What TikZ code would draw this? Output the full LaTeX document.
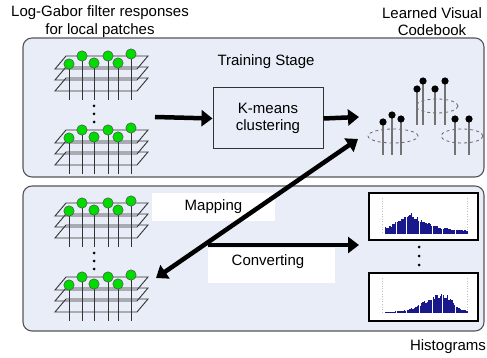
\documentclass[tikz,border=0pt]{standalone}
\usepackage{fontspec}
\setmainfont{Liberation Sans}
\usetikzlibrary{arrows.meta}
\definecolor{panelfill}{RGB}{232,237,247}
\definecolor{panelborder}{RGB}{85,85,85}
\definecolor{ballgreen}{RGB}{0,220,0}
\definecolor{histblue}{RGB}{25,25,140}
\tikzset{
  panel/.style={draw=panelborder,line width=1.1pt,fill=panelfill,rounded corners=9pt},
  plane/.style={draw=black!80,line width=0.9pt},
  stem/.style={draw=black!80,line width=0.9pt},
  ball/.style={draw=black!70,fill=ballgreen,line width=0.5pt},
  cbstem/.style={draw=black!55,line width=1.1pt},
  cbdot/.style={fill=black},
  cbell/.style={draw=black!60,dashed,line width=0.8pt},
  bigarrow/.style={line width=4.5pt,-{Triangle[length=11pt,width=16pt]}},
  dblarrow/.style={line width=4.5pt,{Triangle[length=11pt,width=16pt]}-{Triangle[length=11pt,width=16pt]}},
  labelbox/.style={fill=white,draw=none,font=\fontsize{15}{18}\selectfont},
  txt/.style={font=\fontsize{15}{17.5}\selectfont,align=center,inner sep=0pt},
  histbox/.style={draw=black,line width=2.5pt,fill=white},
  ellipsisdot/.style={fill=black}
}
\newcommand{\gstack}[1]{%
  \begin{scope}[shift={(0,#1)}]
    \foreach \i in {2,1,0}{
      \draw[plane] (55,{69+11*\i}) -- (137,{69+11*\i}) -- (148,{56+11*\i}) -- (66,{56+11*\i}) -- cycle;
    }
    \foreach \x/\y in {69/64,82/56,94/63,108/56,118/63,131/54}{
      \draw[stem] (\x,\y) -- (\x,100);
      \filldraw[ball] (\x,\y) circle (5.2pt);
    }
  \end{scope}}
\newcommand{\vdotsat}[3]{%
  \fill[ellipsisdot] (#1,#2) circle (1.5pt);
  \fill[ellipsisdot] (#1,{#2+(#3-#2)/2}) circle (1.5pt);
  \fill[ellipsisdot] (#1,#3) circle (1.5pt);}
\begin{document}
\begin{tikzpicture}[x=1pt,y=-1pt]
\useasboundingbox (0,0) rectangle (487,358);
% panels
\draw[panel] (23,38) rectangle (484,177);
\draw[panel] (23,186) rectangle (484,331);
% titles
\node[txt] (t1) at (100,21.5) {Log-Gabor filter responses\\for local patches};
\node[txt] (t2) at (432,21.5) {Learned Visual\\Codebook};
\node[txt] (t3) at (266,62) {Training Stage};
\node[txt] (t4) at (448,347) {Histograms};
% stacks
\gstack{0}
\gstack{74}
\gstack{147}
\gstack{221}
\vdotsat{94}{106}{122}
\vdotsat{94}{253}{269}
% K-means
\node[draw=black!80,line width=1pt,fill=panelfill,minimum width=110pt,minimum height=61pt,txt] (km) at (268,118.5) {K-means\\clustering};
\coordinate (sa) at (155,117);
\coordinate (cbin) at (359,117);
\draw[bigarrow] (sa) -- (km.west);
\draw[bigarrow] (km.east) -- (cbin);
% codebook
\draw[cbell] (393,136) ellipse (25pt and 7pt);
\draw[cbell] (437,106) ellipse (21pt and 7pt);
\draw[cbell] (462,136) ellipse (21pt and 7pt);
\foreach \x/\y/\b in {383/122/155,392/115/155,401/119/155,417/89/125,423/81/125,435/89/125,445/81/125,455/119/155,469/119/155}{
  \draw[cbstem] (\x,\y) -- (\x,\b);
  \fill[cbdot] (\x,\y) circle (3.6pt);
}
% labels in bottom panel
\node[labelbox,minimum width=123pt,minimum height=28pt] (map) at (213.5,207) {Mapping};
\node[labelbox,minimum width=127pt,minimum height=35pt,anchor=north west] (conv) at (208,248) {};
\node[txt] (convt) at (268,262) {Converting};
% histograms
\node[histbox,minimum width=109pt,minimum height=47pt] (h1) at (423.5,216.5) {};
\node[histbox,minimum width=109pt,minimum height=48pt] (h2) at (423.5,297) {};
\draw[black!25,dotted,line width=0.6pt] (382,198) -- (382,234) (467,198) -- (467,234);
\draw[black!25,dotted,line width=0.6pt] (382,278) -- (382,313) (467,278) -- (467,313);
\pgfmathsetseed{7}
\foreach \i in {0,...,57}{
  \pgfmathsetmacro{\t}{\i/57}
  \pgfmathsetmacro{\env}{(\t<0.3)*(0.3+0.7*(\t/0.3)^1.4)+(\t>=0.3)*(0.12+0.88*exp(-(\t-0.3)*4.5))}
  \pgfmathsetmacro{\h}{25*\env*(0.72+0.28*rnd)}
  \fill[histblue] ({385+\i*1.44},234) rectangle ({385+\i*1.44+1.3},{234-\h});
}
\foreach \i in {0,...,57}{
  \pgfmathsetmacro{\t}{\i/57}
  \pgfmathsetmacro{\env}{(\t<0.7)*(0.06+0.94*exp(-((\t-0.7)/0.3)^2))+(\t>=0.7)*(0.08+0.92*exp(-((\t-0.7)/0.16)^2))}
  \pgfmathsetmacro{\h}{21*\env*(0.7+0.3*rnd)}
  \fill[histblue] ({385+\i*1.44},313) rectangle ({385+\i*1.44+1.3},{313-\h});
}
\vdotsat{419}{247}{265}
% arrows bottom panel
\coordinate (cs) at (208,245);
\coordinate (ce) at (359,245);
\coordinate (dl) at (156,278);
\coordinate (du) at (358,139);
\draw[bigarrow] (cs) -- (ce);
\draw[dblarrow] (dl) -- (du);
\end{tikzpicture}
\end{document}
